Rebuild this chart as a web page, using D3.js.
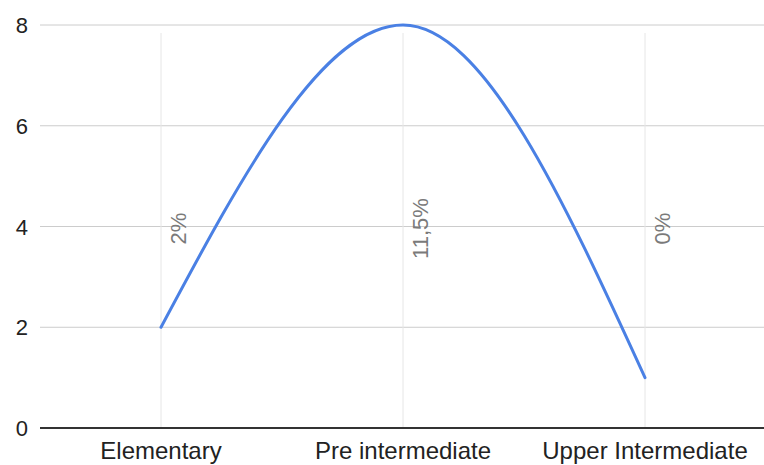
<!DOCTYPE html>
<html>
<head>
<meta charset="utf-8">
<script src="https://cdn.jsdelivr.net/npm/d3@7"></script>
<style>
  html, body { margin: 0; padding: 0; background: #fff; }
  svg { display: block; font-family: "Liberation Sans", Arial, sans-serif; }
</style>
</head>
<body>
<svg id="chart" width="764" height="465"></svg>
<script>
const categories = ["Elementary", "Pre intermediate", "Upper Intermediate"];
const values = [2, 8, 1];
const annotations = ["2%", "11,5%", "0%"];
const yTicks = [0, 2, 4, 6, 8];

const W = 764, H = 465;
const margin = { left: 40, right: 0, top: 25, bottom: 37 };
const svg = d3.select("#chart");

const x = d3.scaleBand().domain(categories).range([margin.left, W - margin.right + 2]).padding(0);
const y = d3.scaleLinear().domain([0, 8]).range([H - margin.bottom, margin.top]);
const cx = d => x(d) + x.bandwidth() / 2;

// horizontal gridlines
svg.append("g").selectAll("line").data(yTicks.filter(t => t !== 0)).join("line")
  .attr("x1", margin.left).attr("x2", W)
  .attr("y1", d => y(d)).attr("y2", d => y(d))
  .attr("stroke", "#cccccc").attr("stroke-width", 1);

// vertical gridlines
svg.append("g").selectAll("line").data(categories).join("line")
  .attr("x1", d => cx(d)).attr("x2", d => cx(d))
  .attr("y1", y(8) + 8).attr("y2", y(0))
  .attr("stroke", "#e6e6e6").attr("stroke-width", 1);

// y axis labels
const yAxis = d3.axisLeft(y).tickValues(yTicks).tickSize(0).tickPadding(0).tickFormat(d3.format("d"));
const gy = svg.append("g").attr("transform", `translate(${margin.left - 12},0)`).call(yAxis);
gy.select(".domain").remove();
gy.selectAll("text").attr("font-size", 22).attr("fill", "#222").attr("dy", "0.35em")
  .attr("font-family", "Liberation Sans, Arial, sans-serif");

// annotations (rotated)
svg.append("g").selectAll("text").data(categories).join("text")
  .attr("transform", (d) => `translate(${cx(d) + 25},${y(4) + 2}) rotate(-90)`)
  .attr("text-anchor", "middle")
  .attr("font-size", 22)
  .attr("fill", "#7a7a7a")
  .text((d, i) => annotations[i]);

// line
const line = d3.line()
  .x((d, i) => cx(categories[i]))
  .y(d => y(d))
  .curve(d3.curveMonotoneX);
svg.append("path").datum(values)
  .attr("d", line)
  .attr("fill", "none")
  .attr("stroke", "#4a80e4")
  .attr("stroke-width", 3)
  .attr("stroke-linecap", "round");

// zero baseline
svg.append("line")
  .attr("x1", margin.left).attr("x2", W)
  .attr("y1", y(0)).attr("y2", y(0))
  .attr("stroke", "#333").attr("stroke-width", 2);

// x axis labels
const xAxis = d3.axisBottom(x).tickSize(0).tickPadding(0);
const gx = svg.append("g").attr("transform", `translate(0,${y(0)})`).call(xAxis);
gx.select(".domain").remove();
gx.selectAll("text").attr("font-size", 24).attr("fill", "#222").attr("dy", "0").attr("y", 31)
  .attr("font-family", "Liberation Sans, Arial, sans-serif");
</script>
</body>
</html>
